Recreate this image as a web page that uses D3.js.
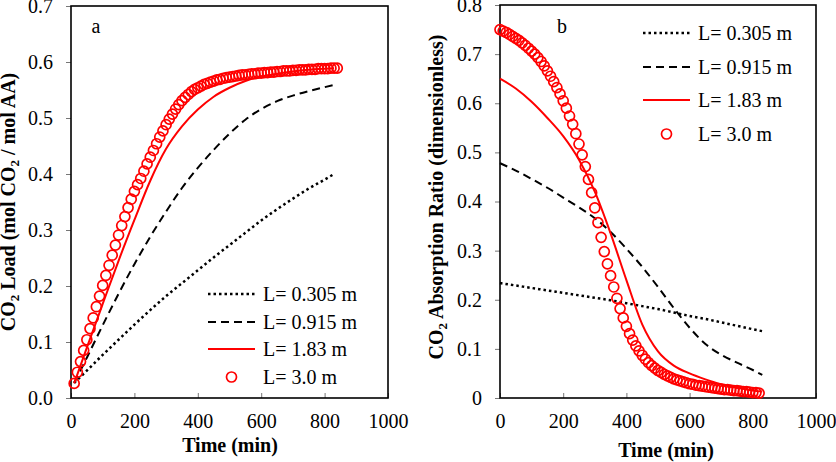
<!DOCTYPE html>
<html>
<head>
<meta charset="utf-8">
<script src="https://cdn.jsdelivr.net/npm/d3@7"></script>
<style>
  body { margin: 0; background: #fff; }
  text { font-family: "Liberation Serif", "Times New Roman", serif; fill: #000; }
</style>
</head>
<body>
<script>
// Formats
var width = 836, height = 462;
var fontTick = 20, fontTitle = 20;

// ---- data, panel a (CO2 load) ----
var timeLineA = [10, 50, 100, 150, 200, 250, 300, 350, 400, 450, 500, 550, 600, 650, 700, 750, 800, 830];
var loadL0305 = [0.027, 0.049, 0.077, 0.104, 0.131, 0.157, 0.182, 0.205, 0.228, 0.251, 0.273, 0.295, 0.317, 0.337, 0.356, 0.374, 0.390, 0.400];
var loadL0915 = [0.027, 0.072, 0.130, 0.186, 0.239, 0.288, 0.333, 0.375, 0.411, 0.443, 0.472, 0.497, 0.516, 0.530, 0.540, 0.548, 0.555, 0.559];
var loadL183  = [0.026, 0.090, 0.168, 0.245, 0.318, 0.388, 0.445, 0.485, 0.515, 0.538, 0.554, 0.566, 0.574, 0.579, 0.583, 0.586, 0.588, 0.589];

var timeCircA = [10, 20, 30, 40, 50, 60, 70, 80, 90, 100, 110, 120, 130, 140, 150, 160, 170, 180, 190, 200,
  210, 220, 230, 240, 250, 260, 270, 280, 290, 300, 310, 320, 330, 340, 350, 360, 370, 380, 390, 400,
  410, 420, 430, 440, 450, 460, 470, 480, 490, 500, 510, 520, 530, 540, 550, 560, 570, 580, 590, 600,
  610, 620, 630, 640, 650, 660, 670, 680, 690, 700, 710, 720, 730, 740, 750, 760, 770, 780, 790, 800,
  810, 820, 830, 840];
var loadL30 = [0.026, 0.046, 0.065, 0.085, 0.104, 0.124, 0.143, 0.163, 0.182, 0.201, 0.219, 0.237, 0.255, 0.273, 0.291, 0.308, 0.324, 0.340, 0.355, 0.369,
  0.381, 0.392, 0.405, 0.418, 0.430, 0.442, 0.454, 0.466, 0.477, 0.488, 0.498, 0.507, 0.516, 0.524, 0.531, 0.537, 0.542, 0.547, 0.551, 0.554,
  0.557, 0.560, 0.562, 0.564, 0.566, 0.568, 0.569, 0.571, 0.572, 0.573, 0.574, 0.575, 0.576, 0.577, 0.577, 0.578, 0.579, 0.579, 0.580, 0.580,
  0.581, 0.581, 0.582, 0.582, 0.583, 0.583, 0.584, 0.584, 0.584, 0.585, 0.585, 0.586, 0.586, 0.586, 0.587, 0.587, 0.587, 0.588, 0.588, 0.588,
  0.588, 0.589, 0.589, 0.589];

// ---- data, panel b (absorption ratio) ----
var timeLineB = [0, 50, 100, 150, 200, 250, 300, 350, 400, 450, 500, 550, 600, 650, 700, 750, 800, 830];
var ratioL0305 = [0.234, 0.229, 0.224, 0.219, 0.214, 0.209, 0.204, 0.199, 0.193, 0.187, 0.181, 0.174, 0.167, 0.161, 0.154, 0.147, 0.140, 0.136];
var ratioL0915 = [0.478, 0.463, 0.446, 0.428, 0.408, 0.388, 0.366, 0.338, 0.304, 0.267, 0.226, 0.183, 0.143, 0.110, 0.088, 0.072, 0.057, 0.047];
var ratioL183  = [0.650, 0.630, 0.603, 0.570, 0.533, 0.485, 0.420, 0.335, 0.240, 0.150, 0.095, 0.066, 0.050, 0.038, 0.028, 0.021, 0.015, 0.013];

var timeCircB = [0, 10, 20, 30, 40, 50, 60, 70, 80, 90, 100, 110, 120, 130, 140, 150, 160, 170, 180, 190, 200,
  210, 220, 230, 240, 250, 260, 270, 280, 290, 300, 310, 320, 330, 340, 350, 360, 370, 380, 390, 400,
  410, 420, 430, 440, 450, 460, 470, 480, 490, 500, 510, 520, 530, 540, 550, 560, 570, 580, 590, 600,
  610, 620, 630, 640, 650, 660, 670, 680, 690, 700, 710, 720, 730, 740, 750, 760, 770, 780, 790, 800,
  810, 820];
var ratioL30 = [0.750, 0.747, 0.744, 0.740, 0.736, 0.732, 0.728, 0.723, 0.718, 0.712, 0.706, 0.700, 0.693, 0.685, 0.676, 0.666, 0.655, 0.644, 0.632, 0.619, 0.605,
  0.590, 0.574, 0.557, 0.538, 0.517, 0.495, 0.471, 0.445, 0.418, 0.387, 0.357, 0.327, 0.298, 0.273, 0.249, 0.226, 0.203, 0.182, 0.163, 0.146,
  0.131, 0.118, 0.106, 0.096, 0.087, 0.079, 0.072, 0.066, 0.061, 0.056, 0.052, 0.048, 0.045, 0.042, 0.039, 0.037, 0.035, 0.033, 0.031, 0.029,
  0.028, 0.026, 0.025, 0.024, 0.023, 0.022, 0.021, 0.020, 0.019, 0.018, 0.017, 0.017, 0.016, 0.015, 0.015, 0.014, 0.013, 0.013, 0.012, 0.011,
  0.011, 0.010];

var legendLabels = ["L= 0.305 m", "L= 0.915 m", "L= 1.83 m", "L= 3.0 m"];
var xTicks = [0, 200, 400, 600, 800, 1000];

// line styles
var styles = [
  {stroke: "#000", width: 2.5, dash: "2.5,3"},
  {stroke: "#000", width: 2, dash: "8,5"},
  {stroke: "#ff0000", width: 2, dash: null}
];

var svg = d3.select("body").append("svg")
  .attr("width", width)
  .attr("height", height);

svg.append("rect").attr("width", width).attr("height", height).attr("fill", "#fff");

function drawPanel(p) {
  var x = d3.scaleLinear().domain([0, 1000]).range([p.left, p.right]);
  var y = d3.scaleLinear().domain([0, p.ymax]).range([p.bottom, p.top]);
  var g = svg.append("g");

  //Axis
  var xAxis = d3.axisBottom(x).tickValues(xTicks).tickSizeInner(-5).tickSizeOuter(0).tickPadding(16)
    .tickFormat(d3.format("d"));
  var yAxis = d3.axisLeft(y).ticks(p.ymax * 10).tickSizeInner(5).tickSizeOuter(0).tickPadding(13)
    .tickFormat(p.yfmt);

  var gx = g.append("g").attr("transform", "translate(0," + p.bottom + ")").call(xAxis);
  var gy = g.append("g").attr("transform", "translate(" + p.left + ",0)").call(yAxis);
  [gx, gy].forEach(function(a) {
    a.attr("font-family", null).attr("font-size", null);
    a.select(".domain").remove();
    a.selectAll(".tick line").attr("stroke", "#777").attr("stroke-width", 1);
    a.selectAll(".tick text").attr("font-size", fontTick).attr("fill", "#000");
  });

  //Frame
  g.append("rect")
    .attr("x", p.left).attr("y", p.top)
    .attr("width", p.right - p.left).attr("height", p.bottom - p.top)
    .attr("fill", "none").attr("stroke", "#000").attr("stroke-width", 1.6);

  //Lines
  var line = d3.line()
    .x(function(d) { return x(d[0]); })
    .y(function(d) { return y(d[1]); })
    .curve(d3.curveMonotoneX);

  p.lines.forEach(function(vals, i) {
    var pts = p.tLine.map(function(t, j) { return [t, vals[j]]; });
    g.append("path")
      .attr("d", line(pts))
      .attr("fill", "none")
      .attr("stroke", styles[i].stroke)
      .attr("stroke-width", styles[i].width)
      .attr("stroke-dasharray", styles[i].dash);
  });

  //Circles
  g.selectAll(".circ")
    .data(p.tCirc.map(function(t, j) { return [t, p.circ[j]]; }))
    .enter().append("circle")
    .attr("cx", function(d) { return x(d[0]); })
    .attr("cy", function(d) { return y(d[1]); })
    .attr("r", 5)
    .attr("fill", "none")
    .attr("stroke", "#ff0000")
    .attr("stroke-width", 1.7);

  //Panel letter
  g.append("text").attr("x", p.letterX).attr("y", 33)
    .attr("text-anchor", "middle").attr("font-size", 20).text(p.letter);

  //X title
  g.append("text").attr("x", p.xtitleX).attr("y", p.xtitleY)
    .attr("text-anchor", "middle").attr("font-size", fontTitle).attr("font-weight", "bold")
    .text("Time (min)");

  //Y title with subscripts
  var yt = g.append("text")
    .attr("transform", "translate(" + p.ytitleX + "," + p.ytitleY + ") rotate(-90)")
    .attr("text-anchor", "middle").attr("font-size", fontTitle).attr("font-weight", "bold");
  p.ytitle.forEach(function(part) {
    if (part.sub) {
      yt.append("tspan").attr("font-size", 13).attr("dy", 4).text(part.s);
    } else {
      yt.append("tspan").attr("dy", part.after ? -4 : 0).text(part.s);
    }
  });

  //Legend
  var lg = g.append("g");
  legendLabels.forEach(function(lab, i) {
    var ly = p.legY[i];
    if (i < 3) {
      lg.append("line")
        .attr("x1", p.legX1).attr("x2", p.legX2).attr("y1", ly).attr("y2", ly)
        .attr("stroke", styles[i].stroke)
        .attr("stroke-width", styles[i].width)
        .attr("stroke-dasharray", styles[i].dash);
    } else {
      lg.append("circle").attr("cx", (p.legX1 + p.legX2) / 2).attr("cy", ly).attr("r", 5)
        .attr("fill", "none").attr("stroke", "#ff0000").attr("stroke-width", 1.7);
    }
    lg.append("text").attr("x", p.legText).attr("y", ly)
      .attr("dominant-baseline", "central").attr("font-size", fontTitle).text(lab);
  });
}

drawPanel({
  left: 71, right: 388, top: 6, bottom: 398, ymax: 0.7,
  yfmt: d3.format(".1f"),
  tLine: timeLineA, lines: [loadL0305, loadL0915, loadL183],
  tCirc: timeCircA, circ: loadL30,
  letter: "a", letterX: 96,
  xtitleX: 230, xtitleY: 452,
  ytitleX: 15, ytitleY: 202,
  ytitle: [{s: "CO"}, {s: "2", sub: true}, {s: " Load (mol CO", after: true}, {s: "2", sub: true}, {s: " / mol AA)", after: true}],
  legY: [294, 322, 349, 377], legX1: 208, legX2: 255, legText: 263
});

drawPanel({
  left: 500, right: 816, top: 5, bottom: 398, ymax: 0.8,
  yfmt: function(d) { return d === 0 ? "0" : d3.format(".1f")(d); },
  tLine: timeLineB, lines: [ratioL0305, ratioL0915, ratioL183],
  tCirc: timeCircB, circ: ratioL30,
  letter: "b", letterX: 562,
  xtitleX: 666, xtitleY: 457,
  ytitleX: 443, ytitleY: 197,
  ytitle: [{s: "CO"}, {s: "2", sub: true}, {s: " Absorption Ratio (dimensionless)", after: true}],
  legY: [33, 67, 100, 134], legX1: 643, legX2: 690, legText: 698
});
</script>
</body>
</html>
